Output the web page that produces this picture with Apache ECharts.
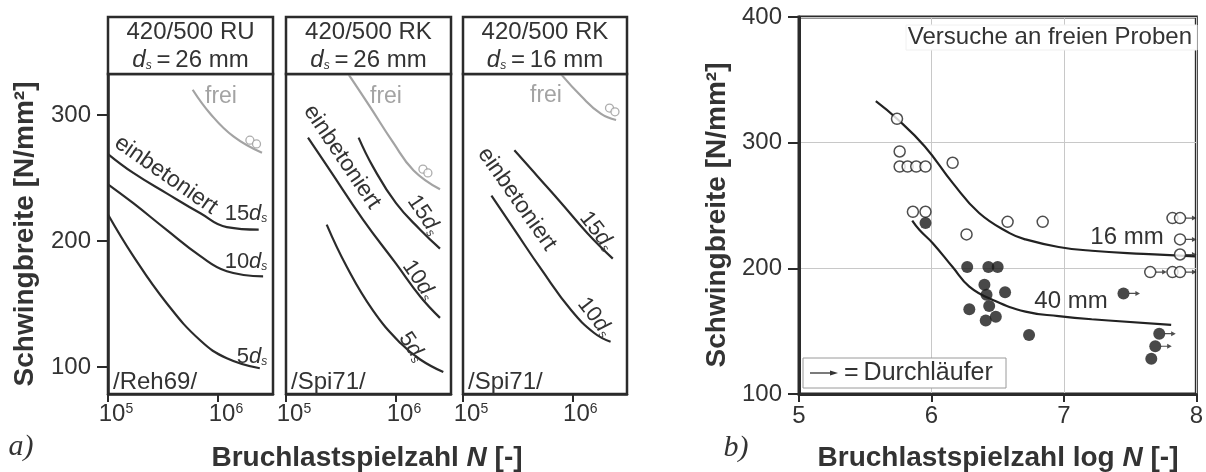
<!DOCTYPE html>
<html><head><meta charset="utf-8">
<script src="https://cdn.jsdelivr.net/npm/echarts@6/dist/echarts.min.js"></script>
<style>html,body{margin:0;padding:0;background:#fff}#c{width:1206px;height:472px}</style>
</head><body><div id="c"></div>
<script>
// ---------------- DATA ----------------
// a) panels: x = log10(N), y = Schwingbreite [N/mm²]
const panelTitles = ['420/500 RU', '420/500 RK', '420/500 RK'];
const panelDiam = ['26', '26', '16'];
const panelRefs = ['/Reh69/', '/Spi71/', '/Spi71/'];
const panelXTicks = [5, 6];
const panelYTicks = [100, 200, 300];

const p1_frei = [[5.77,320],[5.93,301],[6.14,283],[6.40,270]];
const p1_tests = [[6.29,280],[6.35,277]];
const p1_15 = [[5.0,269],[5.23,254],[5.53,238],[5.84,222],[6.08,211],[6.37,209]];
const p1_10 = [[5.0,245],[5.23,230],[5.53,209],[5.84,188],[6.08,176],[6.41,172]];
const p1_5  = [[5.0,221],[5.23,188],[5.53,151],[5.84,121],[6.08,107],[6.38,99]];

const p2_frei = [[5.57,332],[5.76,307],[5.975,278],[6.16,256],[6.40,241]];
const p2_tests = [[6.245,257],[6.29,254]];
const p2_15 = [[5.66,282],[5.79,259],[6.0,230],[6.22,209],[6.40,194]];
const p2_10 = [[5.20,282],[5.40,256],[5.70,217],[6.0,182],[6.22,156],[6.40,139]];
const p2_5  = [[5.37,213],[5.55,180],[5.79,145],[6.04,119],[6.22,106],[6.43,96]];

const p3_frei = [[5.90,332],[6.08,315],[6.26,301],[6.40,296]];
const p3_tests = [[6.34,305.5],[6.39,302.5]];
const p3_15 = [[5.47,272],[5.685,251],[5.90,230],[6.14,206],[6.37,186]];
const p3_10 = [[5.26,236],[5.47,209],[5.72,177],[5.99,145],[6.20,127],[6.35,120]];

// b) x = log N, y = Schwingbreite
const bXTicks = [5, 6, 7, 8];
const bYTicks = [100, 200, 300, 400];
const open16 = [[5.74,319],[5.76,293],[5.76,281],[5.82,281],[5.885,281],[5.955,281],[6.16,284],
  [5.86,245],[5.955,245],[6.265,227],[6.575,237],[6.84,237],
  [7.82,240],[7.877,240],[7.877,223],[7.877,211],[7.652,197],[7.82,197],[7.877,197]];
const runout16 = [[7.877,240],[7.877,223],[7.877,211],[7.652,197],[7.877,197]];
const filled40 = [[5.955,236],[6.27,201],[6.43,201],[6.50,201],[6.40,187],[6.556,181],[6.416,179],
  [6.286,167.5],[6.436,170],[6.486,161.5],[6.41,158.5],[6.737,147],[7.45,180],[7.72,148],[7.69,138],[7.66,128]];
const runout40 = [[7.45,180],[7.72,148],[7.69,138]];
const curve16 = [[5.58,333],[5.74,319],[5.95,297],[6.16,268],[6.36,244],[6.59,228],[6.71,223],[6.96,217],[7.21,214],[7.6,211.5],[7.99,209.5]];
const curve40 = [[5.855,238],[5.91,230.5],[6.01,220],[6.16,201],[6.286,185.5],[6.46,175],[6.71,165.5],[6.96,162],[7.21,159.5],[7.81,155]];

// ---------------- CHART ----------------
const FONT = "'Liberation Sans', Arial, Helvetica, sans-serif";
const DARK = '#2b2b2b';
const GRAY = '#a3a3a3';
const chart = echarts.init(document.getElementById('c'));

const panelBoxes = [{left:108,width:165},{left:286,width:165},{left:463,width:164}];
const PTOP = 74, PH = 320, HTOP = 17;

const grids = panelBoxes.map(p => ({left:p.left, top:PTOP, width:p.width, height:PH, show:true, borderColor:DARK, borderWidth:2.5}));
grids.push({left:799, top:17, width:399, height:377, show:true, borderColor:DARK, borderWidth:3});

const xAxes = panelBoxes.map((p,i) => ({
  gridIndex:i, type:'value', min:5, max:6.5,
  axisLine:{show:true, onZero:false, lineStyle:{color:DARK, width:2.5}},
  axisTick:{show:true, customValues:panelXTicks, length:8, lineStyle:{color:DARK, width:2}},
  axisLabel:{show:true, customValues:panelXTicks, margin:8, color:'#333', fontFamily:FONT,
    formatter: v => '{b|10}{sup|' + v + '}',
    rich:{b:{fontSize:24, fontFamily:FONT, color:'#333', padding:[0,0,0,16]}, sup:{fontSize:14, fontFamily:FONT, color:'#333', verticalAlign:'top'}}},
  splitLine:{show:false}
}));
xAxes.push({gridIndex:3, type:'value', min:5, max:8, interval:1,
  axisLine:{show:true, onZero:false, lineStyle:{color:DARK, width:3}},
  axisTick:{show:true, length:8, lineStyle:{color:DARK, width:2}},
  axisLabel:{margin:10, fontSize:24, fontFamily:FONT, color:'#333'},
  splitLine:{show:true, lineStyle:{color:'#c8c8c8', width:1}}});

const yAxes = panelBoxes.map((p,i) => ({
  gridIndex:i, type:'value', min:78.6, max:332.5,
  axisLine:{show:i===0, onZero:false, lineStyle:{color:DARK, width:2.5}},
  axisTick:{show:i===0, customValues:panelYTicks, length:11, lineStyle:{color:DARK, width:2}},
  axisLabel:{show:i===0, customValues:panelYTicks, margin:17, fontSize:24, fontFamily:FONT, color:'#333'},
  splitLine:{show:false}
}));
yAxes.push({gridIndex:3, type:'value', min:100, max:400, interval:100,
  axisLine:{show:true, onZero:false, lineStyle:{color:DARK, width:3}},
  axisTick:{show:true, length:11, lineStyle:{color:DARK, width:2}},
  axisLabel:{margin:17, fontSize:24, fontFamily:FONT, color:'#333'},
  splitLine:{show:true, lineStyle:{color:'#c8c8c8', width:1}}});

function curve(data, gi, color, w) {
  return {type:'line', xAxisIndex:gi, yAxisIndex:gi, data, smooth:0.45, showSymbol:false, symbol:'none',
    silent:true, z:5, lineStyle:{color:color, width:w||2.2}};
}
function tests(data, gi) {
  return {type:'scatter', xAxisIndex:gi, yAxisIndex:gi, data, symbol:'circle', symbolSize:8, silent:true, z:6,
    itemStyle:{color:'#fff', borderColor:'#999', borderWidth:1.3}};
}
const ARROW = 'path://M0,4.4 L7,4.4 L7,2.5 L12,5 L7,7.5 L7,5.6 L0,5.6 Z';

const series = [
  curve(p1_frei,0,GRAY), tests(p1_tests,0), curve(p1_15,0,DARK), curve(p1_10,0,DARK), curve(p1_5,0,DARK),
  curve(p2_frei,1,GRAY), tests(p2_tests,1), curve(p2_15,1,DARK), curve(p2_10,1,DARK), curve(p2_5,1,DARK),
  curve(p3_frei,2,GRAY), tests(p3_tests,2), curve(p3_15,2,DARK), curve(p3_10,2,DARK),
  curve(curve16,3,'#222',2.2), curve(curve40,3,'#222',2.2),
  {type:'scatter', xAxisIndex:3, yAxisIndex:3, data:runout16.concat(runout40), symbol:ARROW, symbolSize:[11,5], symbolOffset:[11,0], z:4, silent:true, itemStyle:{color:'#222'}},
  {type:'scatter', xAxisIndex:3, yAxisIndex:3, data:open16, symbol:'circle', symbolSize:11, z:7, silent:true,
    itemStyle:{color:'#fff', borderColor:'#222', borderWidth:1.5}},
  {type:'scatter', xAxisIndex:3, yAxisIndex:3, data:filled40, symbol:'circle', symbolSize:12, z:8, silent:true,
    itemStyle:{color:'#1a1a1a'}}
];

// ----- annotations -----
const g = [];
function txt(x, y, text, opts) {
  opts = opts || {};
  g.push({type:'text', x, y, rotation: opts.rot || 0, z:100,
    style:{text, font: (opts.weight||'normal') + ' ' + (opts.style||'normal') + ' ' + (opts.size||24) + 'px ' + (opts.family||FONT),
      fill: opts.color || '#333', textAlign: opts.align || 'center', textVerticalAlign: opts.va || 'middle', rich: opts.rich}});
}
const dsRich = {
  d:{fontStyle:'italic', fontSize:22, fontFamily:FONT, fill:'#333', color:'#333'},
  s:{fontStyle:'italic', fontSize:12, fontFamily:FONT, verticalAlign:'bottom', fill:'#333', color:'#333'},
  n:{fontSize:22, fontFamily:FONT, fill:'#333', color:'#333'}
};
const hdrRich = {
  d:{fontStyle:'italic', fontSize:24, fontFamily:FONT, fill:'#333'},
  s:{fontStyle:'italic', fontSize:12, fontFamily:FONT, verticalAlign:'bottom', fill:'#333'},
  n:{fontSize:24, fontFamily:FONT, fill:'#333'}
};
panelBoxes.forEach((p,i) => {
  g.push({type:'rect', shape:{x:p.left, y:HTOP, width:p.width, height:PTOP-HTOP}, z:90,
    style:{fill:'#fff', stroke:DARK, lineWidth:2.5}});
  txt(p.left + p.width/2, 32, panelTitles[i]);
  txt(p.left + p.width/2, 60, '{d|d}{s|s}{n|\u2009=\u2009' + panelDiam[i] + ' mm}', {rich:hdrRich});
  txt(p.left + 5, 382, panelRefs[i], {align:'left'});
});
// panel 1 labels
txt(221, 97, 'frei', {color:GRAY, size:23});
txt(166, 175, 'einbetoniert', {rot:-35*Math.PI/180, size:23});
txt(246, 214, '15{d|d}{s|s}', {rich:dsRich, size:22});
txt(246, 262, '10{d|d}{s|s}', {rich:dsRich, size:22});
txt(252, 357, '5{d|d}{s|s}', {rich:dsRich, size:22});
// panel 2 labels
txt(386, 97, 'frei', {color:GRAY, size:23});
txt(342, 157, 'einbetoniert', {rot:-56*Math.PI/180, size:23});
txt(424, 215, '15{d|d}{s|s}', {rich:dsRich, size:22, rot:-56*Math.PI/180});
txt(419, 280, '10{d|d}{s|s}', {rich:dsRich, size:22, rot:-56*Math.PI/180});
txt(412, 347, '5{d|d}{s|s}', {rich:dsRich, size:22, rot:-56*Math.PI/180});
// panel 3 labels
txt(546, 96, 'frei', {color:GRAY, size:23});
txt(517, 199, 'einbetoniert', {rot:-55*Math.PI/180, size:23});
txt(597, 231, '15{d|d}{s|s}', {rich:dsRich, size:22, rot:-52*Math.PI/180});
txt(595, 317, '10{d|d}{s|s}', {rich:dsRich, size:22, rot:-52*Math.PI/180});

// axis titles
const titleRich = {
  b:{fontWeight:'bold', fontSize:28, fontFamily:FONT, fill:'#333'},
  i:{fontWeight:'bold', fontStyle:'italic', fontSize:28, fontFamily:FONT, fill:'#333'}
};
txt(25, 234, 'Schwingbreite [N/mm²]', {weight:'bold', size:28, rot:Math.PI/2});
txt(717, 215, 'Schwingbreite [N/mm²]', {weight:'bold', size:28, rot:Math.PI/2});
txt(367, 458, '{b|Bruchlastspielzahl }{i|N}{b| [-]}', {rich:titleRich, size:28, weight:'bold'});
txt(998, 458, '{b|Bruchlastspielzahl log }{i|N}{b| [-]}', {rich:titleRich, size:28, weight:'bold'});
txt(21, 447, 'a)', {style:'italic', size:30, family:"'Liberation Serif', 'Times New Roman', serif"});
txt(736, 448, 'b)', {style:'italic', size:30, family:"'Liberation Serif', 'Times New Roman', serif"});

// b) annotations
g.push({type:'rect', shape:{x:906, y:25, width:291, height:25}, z:95, style:{fill:'#fff', stroke:'#f0f0f0', lineWidth:1}});
txt(1192, 37, 'Versuche an freien Proben', {align:'right', size:24});
txt(1127, 237, '16 mm', {size:24});
txt(1071, 301, '40 mm', {size:24});
g.push({type:'rect', shape:{x:803, y:358, width:203, height:30}, z:95, style:{fill:'#fff', stroke:'#9a9a9a', lineWidth:1}});
g.push({type:'line', shape:{x1:810, y1:373, x2:832, y2:373}, z:100, style:{stroke:'#333', lineWidth:1.3}});
g.push({type:'polygon', shape:{points:[[830,370.5],[838,373],[830,375.5]]}, z:100, style:{fill:'#333'}});
txt(844, 373, '=\u2009Durchläufer', {align:'left', size:25});

chart.setOption({
  animation:false,
  backgroundColor:'#fff',
  grid:grids, xAxis:xAxes, yAxis:yAxes, series:series, graphic:{elements:g}
});
</script></body></html>
